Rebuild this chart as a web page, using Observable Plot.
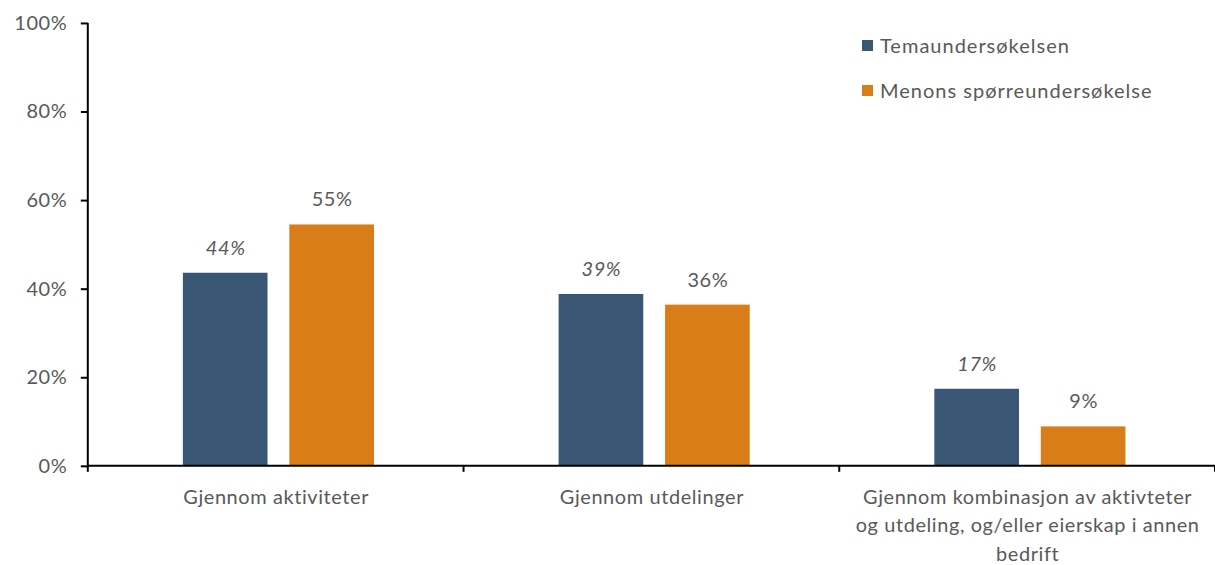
<!DOCTYPE html>
<html><head><meta charset="utf-8">
<script src="https://cdn.jsdelivr.net/npm/d3@7"></script>
<script src="https://cdn.jsdelivr.net/npm/@observablehq/plot@0.6"></script>
<style>
body{margin:0;background:#fff;font-family:Lato,sans-serif;}
#wrap{position:relative;width:1215px;height:565px;overflow:hidden;}
#chart svg text{letter-spacing:0.6px;}
#legend{position:absolute;left:862px;top:33px;font-size:20px;letter-spacing:1px;color:#595959;font-family:Lato,sans-serif;}
#legend .item{display:flex;align-items:center;height:24px;margin-bottom:21px;}
#legend .sw{width:11px;height:11px;margin-right:7px;}
</style></head><body>
<div id="wrap"><div id="chart"></div><div id="legend"></div></div>
<script>
const categories = ["Gjennom aktiviteter", "Gjennom utdelinger", "Gjennom kombinasjon av aktivteter og utdeling, og/eller eierskap i annen bedrift"];
const categoryLabels = ["Gjennom aktiviteter", "Gjennom utdelinger", "Gjennom kombinasjon av aktivteter\nog utdeling, og/eller eierskap i annen\nbedrift"];
const series = ["Temaundersøkelsen", "Menons spørreundersøkelse"];
const temaValues = [43.6, 38.8, 17.4];
const menonValues = [54.5, 36.4, 8.9];
const colors = ["#3A5675", "#D87D18"];
const yTicks = [0, 20, 40, 60, 80, 100];

const data = categories.flatMap((c, i) => [
  {category: c, series: series[0], value: temaValues[i]},
  {category: c, series: series[1], value: menonValues[i]}
]);
const labelOf = new Map(categories.map((c, i) => [c, categoryLabels[i]]));

const axisLines = Plot.frame({
  facet: "super",
  stroke: "none",
  render(index, scales, values, dims) {
    const g = d3.create("svg:g").attr("stroke", "black").attr("stroke-width", 2);
    const y0 = scales.y(0), yTop = scales.y(100);
    const left = dims.marginLeft, right = dims.width - dims.marginRight;
    g.append("line").attr("x1", left).attr("x2", left).attr("y1", yTop).attr("y2", y0);
    g.append("line").attr("x1", left).attr("x2", right).attr("y1", y0).attr("y2", y0);
    const edges = categories.map(c => scales.fx(c)).concat([right]);
    for (const x of edges) {
      g.append("line").attr("x1", x).attr("x2", x).attr("y1", y0).attr("y2", y0 + 6);
    }
    return g.node();
  }
});

const chart = Plot.plot({
  width: 1218,
  height: 565,
  marginLeft: 88,
  marginRight: 0,
  marginTop: 23,
  marginBottom: 98,
  style: {fontFamily: "Lato, sans-serif", fontSize: "20px", color: "#595959", background: "white"},
  fx: {domain: categories, padding: 0, round: false, label: null},
  x: {domain: series, paddingInner: 0.205, paddingOuter: 0.867, align: 0.515, round: false, axis: null},
  y: {domain: [0, 100], label: null},
  color: {domain: series, range: colors},
  marks: [
    Plot.barY(data, {fx: "category", x: "series", y: "value", fill: "series"}),
    Plot.text(data.filter(d => d.series === series[0]), {fx: "category", x: "series", y: "value", text: d => Math.round(d.value) + "%", dy: -25, fontStyle: "italic", fill: "#595959", fontSize: 20}),
    Plot.text(data.filter(d => d.series === series[1]), {fx: "category", x: "series", y: "value", text: d => Math.round(d.value) + "%", dy: -25, fill: "#595959", fontSize: 20}),
    Plot.axisY({ticks: yTicks, tickFormat: d => d + "%", tickSize: 7, tickPadding: 14, stroke: "black", strokeWidth: 2, fill: "#595959", fontSize: 20, label: null}),
    Plot.axisFx({anchor: "bottom", tickSize: 0, tickPadding: 17, tickFormat: d => labelOf.get(d), lineHeight: 1.43, fill: "#595959", fontSize: 20, label: null}),
    axisLines
  ]
});
document.getElementById("chart").appendChild(chart);

const legend = document.getElementById("legend");
series.forEach((s, i) => {
  const item = document.createElement("div");
  item.className = "item";
  const sw = document.createElement("span");
  sw.className = "sw";
  sw.style.background = colors[i];
  const t = document.createElement("span");
  t.textContent = s;
  item.appendChild(sw); item.appendChild(t);
  legend.appendChild(item);
});
</script>
</body></html>
